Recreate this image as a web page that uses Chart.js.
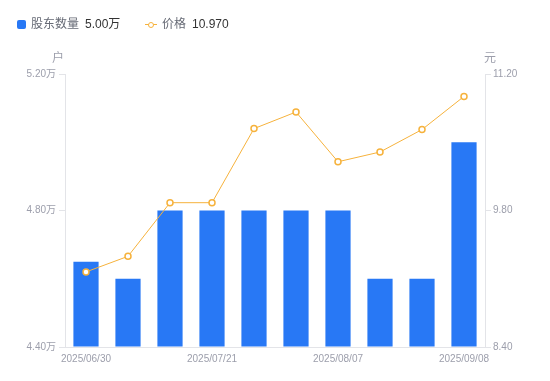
<!DOCTYPE html>
<html>
<head>
<meta charset="utf-8">
<script src="https://cdn.jsdelivr.net/npm/chart.js@4.4.0/dist/chart.umd.min.js"></script>
<style>
html,body{margin:0;padding:0;background:#fff;}
#wrap{position:relative;width:550px;height:381px;font-family:"Liberation Sans","Noto Sans CJK SC",Arial,sans-serif;}
#legend{position:absolute;left:0;top:0;width:550px;height:40px;font-size:12px;}
.item{position:absolute;top:17px;height:14px;line-height:14px;white-space:nowrap;}
.lab{color:#666a75;}
.val{color:#333;margin-left:6px;}
.sq{display:inline-block;width:9px;height:9px;background:#2878f5;border-radius:2px;vertical-align:-1px;margin-right:5px;}
.ln{display:inline-block;position:relative;width:12px;height:9px;margin-right:5px;vertical-align:-1px;}
.ln:before{content:"";position:absolute;left:0;right:0;top:4px;height:1px;background:#f6b23c;}
.ln:after{content:"";position:absolute;left:3px;top:1.5px;width:4px;height:4px;border:1.5px solid #f6b23c;border-radius:50%;background:#fff;}
</style>
</head>
<body>
<div id="wrap">
<canvas id="c" width="550" height="381"></canvas>
<div id="legend">
  <div class="item" style="left:17px"><span class="sq"></span><span class="lab">股东数量</span><span class="val">5.00万</span></div>
  <div class="item" style="left:145px"><span class="ln"></span><span class="lab">价格</span><span class="val">10.970</span></div>
</div>
</div>
<script>
const categories = ["2025/06/30","2025/07/10","2025/07/18","2025/07/21","2025/07/31","2025/08/01","2025/08/07","2025/08/20","2025/08/29","2025/09/08"];
const holders = [4.65, 4.60, 4.80, 4.80, 4.80, 4.80, 4.80, 4.60, 4.60, 5.00];
const prices = [9.17, 9.33, 9.88, 9.88, 10.64, 10.81, 10.30, 10.40, 10.63, 10.97];
const leftTicks = [4.40, 4.80, 5.20];
const rightTicks = [8.40, 9.80, 11.20];
const shownLabelIdx = [0, 3, 6, 9];

const axisColor = '#e3e4e8';
const tickColor = '#9c9eab';

const titlePlugin = {
  id: 'axisTitles',
  afterDraw(chart) {
    const ctx = chart.ctx;
    const a = chart.chartArea;
    ctx.save();
    ctx.font = '12px "Liberation Sans","Noto Sans CJK SC",sans-serif';
    ctx.fillStyle = tickColor;
    ctx.textAlign = 'center';
    ctx.textBaseline = 'middle';
    ctx.fillText('户', a.left - 7, a.top - 15);
    ctx.fillText('元', a.right + 5, a.top - 15);
    ctx.restore();
  }
};

new Chart(document.getElementById('c'), {
  data: {
    labels: categories,
    datasets: [
      {
        type: 'line', label: '价格', data: prices, yAxisID: 'y1', order: 0,
        borderColor: '#f6b23c', borderWidth: 1, pointRadius: 3, pointBorderWidth: 1.5,
        pointBackgroundColor: '#fff', pointBorderColor: '#f6b23c', tension: 0
      },
      {
        type: 'bar', label: '股东数量', data: holders, yAxisID: 'y', order: 1,
        backgroundColor: '#2878f5', barPercentage: 0.6, categoryPercentage: 1.0, base: 4.4
      }
    ]
  },
  options: {
    responsive: false, animation: false,
    layout: { padding: { top: 74, left: 0, right: 0, bottom: 0 } },
    plugins: { legend: { display: false }, tooltip: { enabled: false } },
    scales: {
      x: {
        offset: true,
        grid: { display: false, drawTicks: false },
        border: { display: true, color: axisColor },
        ticks: {
          autoSkip: false, maxRotation: 0, padding: 6, color: tickColor,
          font: { size: 10, family: '"Liberation Sans",Arial,sans-serif' },
          callback: (v, i) => shownLabelIdx.includes(i) ? categories[i] : ''
        },
        afterFit: s => { s.height = 34; }
      },
      y: {
        position: 'left', min: 4.4, max: 5.2,
        grid: { drawOnChartArea: false, drawTicks: true, tickLength: 6, color: axisColor },
        border: { display: true, color: axisColor },
        afterBuildTicks: s => { s.ticks = leftTicks.map(v => ({ value: v })); },
        ticks: {
          padding: 3, color: tickColor,
          font: { size: 10, family: '"Liberation Sans","Noto Sans CJK SC",sans-serif' },
          callback: v => Number(v).toFixed(2) + '万'
        },
        afterFit: s => { s.width = 65; }
      },
      y1: {
        position: 'right', min: 8.4, max: 11.2,
        grid: { drawOnChartArea: false, drawTicks: true, tickLength: 6, color: axisColor },
        border: { display: true, color: axisColor },
        afterBuildTicks: s => { s.ticks = rightTicks.map(v => ({ value: v })); },
        ticks: {
          padding: 2, color: tickColor,
          font: { size: 10, family: '"Liberation Sans",Arial,sans-serif' },
          callback: v => Number(v).toFixed(2)
        },
        afterFit: s => { s.width = 65; }
      }
    }
  },
  plugins: [titlePlugin]
});
</script>
</body>
</html>
